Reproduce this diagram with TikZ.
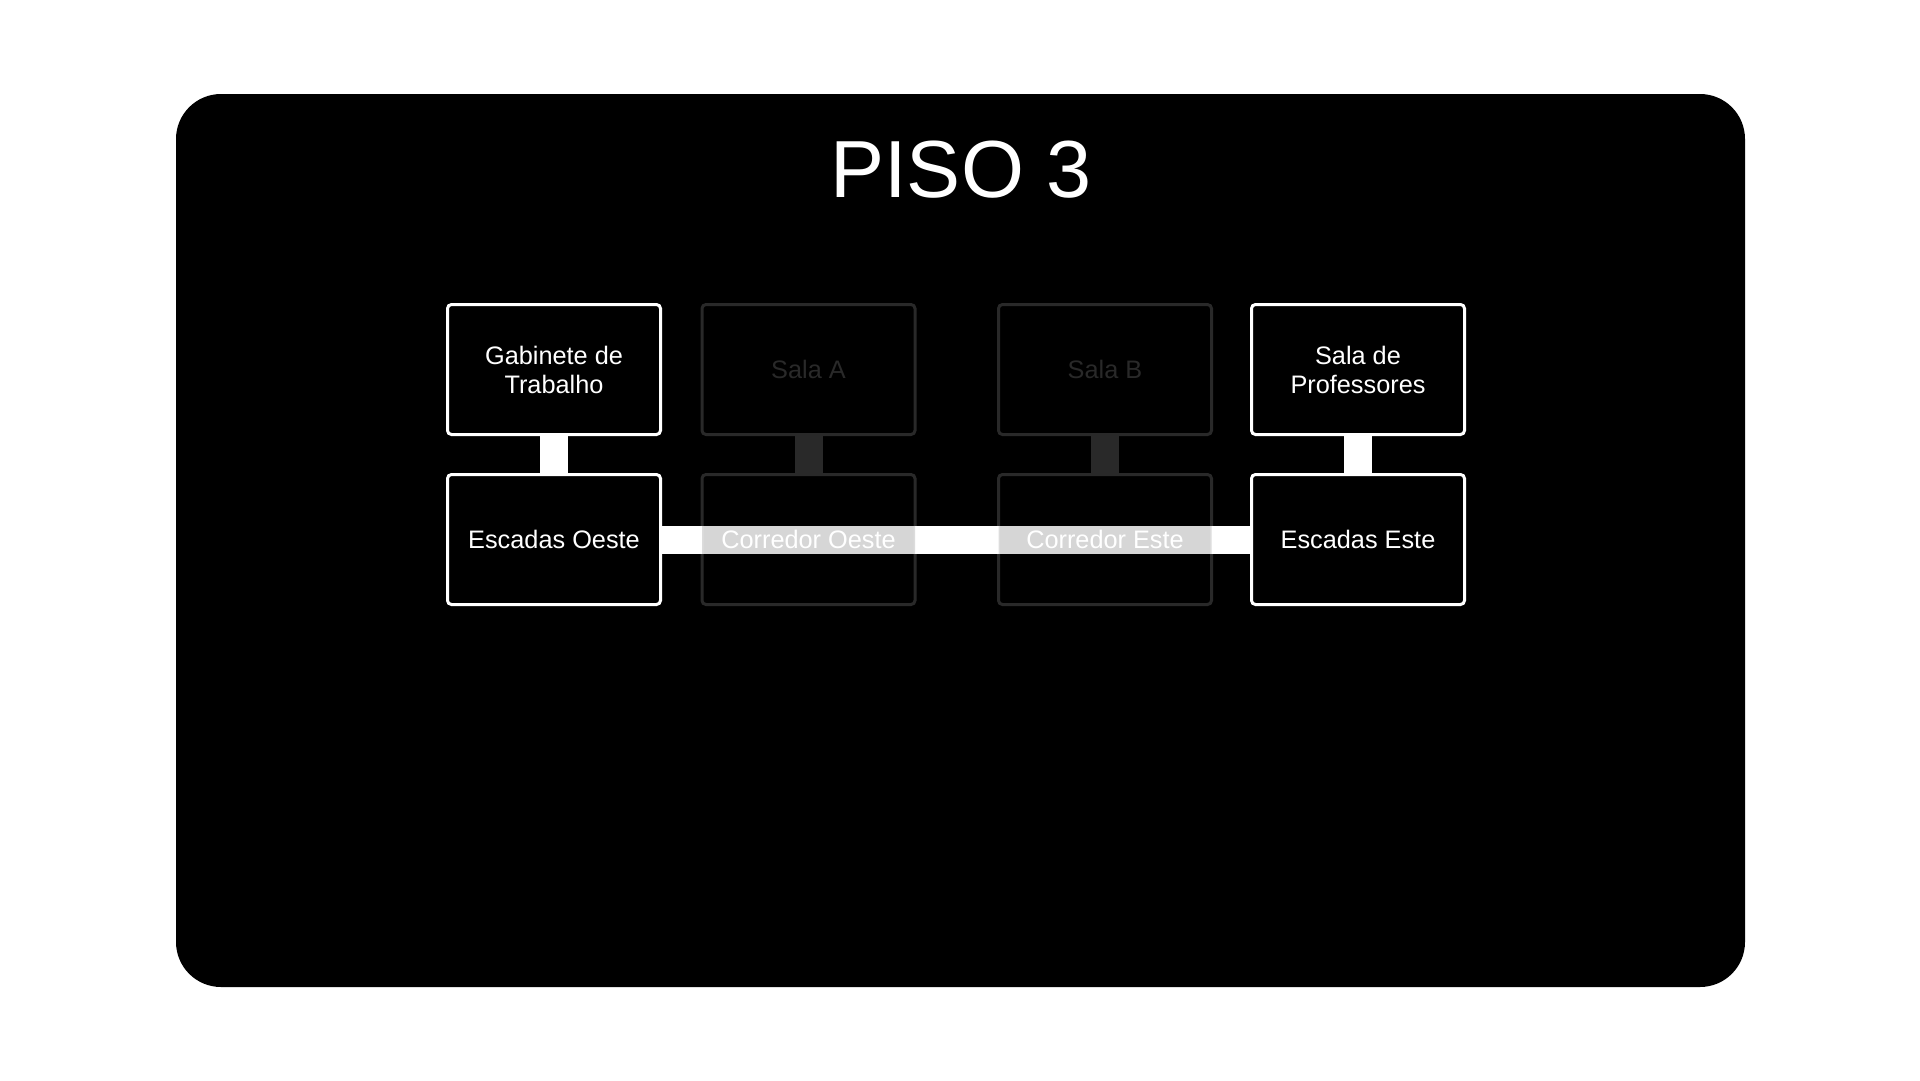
\documentclass[tikz,border=0pt]{standalone}
\usepackage{fontspec}
\setmainfont{Liberation Sans}
\begin{document}
\begin{tikzpicture}[x=1pt,y=-1pt,
  room/.style={rectangle, draw=white, line width=3pt, fill=black,
    rounded corners=4pt, minimum width=213pt, minimum height=130pt,
    inner sep=0pt, text=white, align=center,
    font=\fontsize{25.3pt}{29pt}\selectfont},
  dimroom/.style={room, draw=white!16!black, text=white!16!black},
  dimcorr/.style={room, fill opacity=0.16, draw opacity=0.16, text opacity=1},
  link/.style={line width=28pt, white},
  dimlink/.style={line width=28pt, white!16!black}]
  % page and panel
  \fill[white] (0,0) rectangle (1920,1080);
  \useasboundingbox (0,0) rectangle (1920,1080);
  \fill[black, rounded corners=45pt] (176,94) rectangle (1745,987);
  \node[text=white, font=\fontsize{81pt}{90pt}\selectfont] (title) at (961,170) {PISO 3};

  % stairs and rooms on the two ends
  \node[room] (gab) at (554,369.5) {Gabinete de\\Trabalho};
  \node[room] (prof) at (1358,369.5) {Sala de\\Professores};
  \node[room] (eo) at (554,539.5) {Escadas Oeste};
  \node[room] (ee) at (1358,539.5) {Escadas Este};

  % corridor running between the stairs
  \draw[link] (eo.east) -- (ee.west);
  \draw[link] (gab.south) -- (eo.north);
  \draw[link] (prof.south) -- (ee.north);

  % dimmed rooms and corridor sections
  \node[dimroom] (salaA) at (808.5,369.5) {Sala A};
  \node[dimroom] (salaB) at (1105,369.5) {Sala B};
  \node[dimcorr] (co) at (808.5,539.5) {Corredor Oeste};
  \node[dimcorr] (ce) at (1105,539.5) {Corredor Este};
  \draw[dimlink] (salaA.south) -- (co.north);
  \draw[dimlink] (salaB.south) -- (ce.north);
\end{tikzpicture}
\end{document}
